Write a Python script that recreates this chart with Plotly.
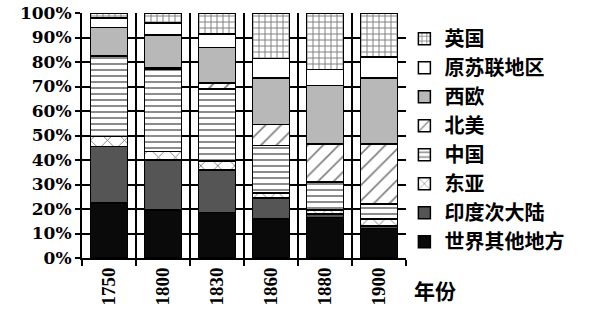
import plotly.graph_objects as go

years = ["1750", "1800", "1830", "1860", "1880", "1900"]
series_names = ["世界其他地方", "印度次大陆", "东亚", "中国", "北美", "西欧", "原苏联地区", "英国"]
rest_world = [22.5, 19.5, 18.5, 16.0, 16.5, 12.0]
india = [23.0, 20.5, 17.5, 8.5, 1.5, 1.0]
east_asia = [4.0, 3.5, 3.5, 2.0, 1.5, 3.0]
china = [33.0, 33.5, 29.5, 19.5, 11.5, 6.0]
north_america = [0.0, 0.5, 2.5, 8.5, 15.5, 24.5]
west_europe = [11.5, 13.5, 14.5, 19.0, 24.0, 27.0]
ussr = [4.0, 5.0, 5.5, 8.0, 6.5, 8.5]
britain = [2.0, 4.0, 8.5, 18.5, 23.0, 18.0]
y_ticks = [0, 10, 20, 30, 40, 50, 60, 70, 80, 90, 100]
y_tick_text = [f"{v}%" for v in y_ticks]

values = [rest_world, india, east_asia, china, north_america, west_europe, ussr, britain]
styles = [
    dict(color="#0a0a0a", pattern=dict(shape="")),
    dict(color="#555555", pattern=dict(shape="")),
    dict(color="white", pattern=dict(shape="x", fgcolor="black", bgcolor="white", size=12, solidity=0.15)),
    dict(color="white", pattern=dict(shape="-", fgcolor="black", bgcolor="white", size=6, solidity=0.3)),
    dict(color="white", pattern=dict(shape="/", fgcolor="black", bgcolor="white", size=11, solidity=0.15)),
    dict(color="#b8b8b8", pattern=dict(shape="")),
    dict(color="white", pattern=dict(shape="")),
    dict(color="white", pattern=dict(shape="+", fgcolor="black", bgcolor="white", size=6, solidity=0.3)),
]

fig = go.Figure()
for name, vals, st in zip(series_names, values, styles):
    fig.add_trace(go.Bar(
        x=years, y=vals, name=name,
        marker=dict(color=st["color"], pattern=st["pattern"], line=dict(color="black", width=1.5)),
    ))

fig.update_layout(
    width=607, height=312,
    margin=dict(l=82, r=201, t=13, b=54, autoexpand=False),
    barmode="stack", bargap=0.31,
    plot_bgcolor="white", paper_bgcolor="white",
    showlegend=True,
    legend=dict(
        traceorder="reversed", x=0.995, xanchor="left", y=0.975, yanchor="top",
        font=dict(family="Noto Sans CJK SC", size=20, color="black", weight="bold"),
        itemwidth=30, bgcolor="rgba(0,0,0,0)", tracegroupgap=0, maxheight=400,
    ),
    xaxis=dict(
        type="category", tickson="boundaries", showgrid=True, gridcolor="black", gridwidth=2,
        showline=True, linecolor="black", linewidth=2, ticks="outside", ticklen=6, tickwidth=2,
        tickcolor="black", tickangle=-90, automargin=False,
        tickfont=dict(family="Liberation Serif", size=19, color="black", weight="bold"),
    ),
    yaxis=dict(
        range=[0, 100], tickvals=y_ticks, ticktext=y_tick_text, showgrid=True,
        gridcolor="black", gridwidth=1.5, showline=True, linecolor="black", linewidth=2,
        ticks="outside", ticklen=5, tickwidth=1.5, tickcolor="black", zeroline=False, automargin=False,
        tickfont=dict(family="DejaVu Serif", size=17, color="black", weight="bold"),
    ),
    annotations=[dict(
        text="年份", xref="paper", yref="paper", x=1.02, y=-0.13, xanchor="left", yanchor="middle",
        showarrow=False, font=dict(family="Noto Sans CJK SC", size=21, color="black", weight="bold"),
    )],
)

fig.write_html("out.html")
